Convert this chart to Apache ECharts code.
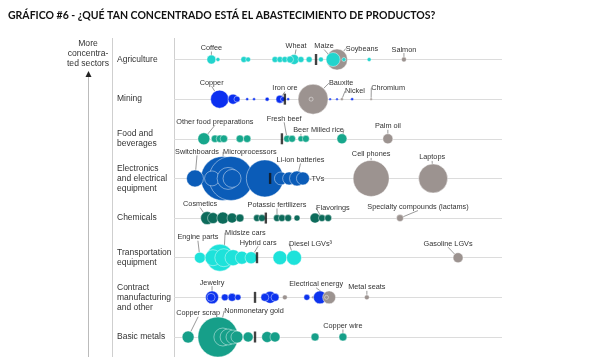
<!DOCTYPE html>
<html><head><meta charset="utf-8">
<script src="https://cdn.jsdelivr.net/npm/echarts@6/dist/echarts.min.js"></script>
<style>html,body{margin:0;padding:0;background:#fff}#c{width:600px;height:357px}</style>
</head><body><div id="c"></div>
<script>
// Sector rows (top = more concentrated)
const sectors = ['Agriculture', 'Mining', 'Food and\nbeverages', 'Electronics\nand electrical\nequipment', 'Chemicals', 'Transportation\nequipment', 'Contract\nmanufacturing\nand other', 'Basic metals'];

// Each product: [concentration index (0-100), trade value, label, highlighted(grey)]
const agriculture = [
  [49.7, 110, 'Soybeans', 1], [48.5, 49, 'Maize'], [11.4, 20, 'Coffee'], [13.4, 4],
  [21.3, 9], [22.6, 6], [30.8, 9], [32.3, 9], [33.8, 9], [36.6, 25, 'Wheat'], [35.4, 12],
  [38.7, 9], [41.2, 9], [44.8, 6], [51.8, 4], [59.5, 4], [70.1, 6, 'Salmon', 1]
];
const mining = [
  [42.4, 225, 'Bauxite', 1], [41.8, 4, '', 1], [13.9, 81, 'Copper'], [18.0, 25], [19.2, 9],
  [22.3, 2], [24.4, 2], [28.4, 4], [32.3, 16, 'Iron ore'], [33.2, 6], [34.8, 2],
  [47.6, 1.5], [49.7, 1.5], [51.2, 2, 'Nickel', 1], [54.3, 2], [60.1, 1.5, 'Chromium', 1]
];
const food = [
  [9.1, 36, 'Other food preparations'], [12.5, 14], [14.0, 14], [15.2, 14], [20.1, 14], [22.3, 14],
  [34.5, 12, 'Fresh beef'], [36.0, 12], [38.7, 9, 'Beer'], [40.2, 12], [51.2, 25, 'Milled rice'],
  [65.2, 25, 'Palm oil', 1]
];
const electronics = [
  [14.9, 484, 'Microprocessors'], [17.4, 484], [27.7, 342], [6.4, 72, 'Switchboards'], [11.6, 56],
  [16.5, 121], [17.7, 81], [32.6, 42], [35.1, 42], [37.5, 56, 'Li-ion batteries'], [39.3, 42, 'TVs'],
  [60.1, 324, 'Cell phones', 1], [79.0, 210, 'Laptops', 1]
];
const chemicals = [
  [10.1, 42, 'Cosmetics'], [11.9, 30], [14.9, 36], [17.7, 25], [20.1, 16], [25.3, 12], [26.8, 12],
  [31.4, 12, 'Potassic fertilizers'], [32.9, 12], [34.8, 12], [37.5, 9], [43.0, 25],
  [45.1, 12, 'Flavorings'], [47.0, 12], [68.9, 12, 'Specialty compounds (lactams)', 1]
];
const transport = [
  [14.0, 182], [7.9, 30, 'Engine parts'], [11.9, 64], [15.2, 81, 'Midsize cars'], [18.0, 64],
  [20.7, 42], [23.5, 36, 'Hybrid cars'], [32.3, 49], [36.6, 56, 'Diesel LGVs³'],
  [86.6, 25, 'Gasoline LGVs', 1]
];
const contract = [
  [11.6, 42, 'Jewelry'], [11.3, 16], [15.5, 12], [17.7, 16], [19.5, 9], [29.3, 36], [27.7, 16],
  [30.8, 16], [33.8, 6, '', 1], [40.5, 9], [42.4, 2, '', 1], [44.5, 42],
  [47.3, 42, 'Electrical energy', 1], [46.5, 4, '', 1], [58.8, 6, 'Metal seats', 1]
];
const basicMetals = [
  [13.4, 400, 'Nonmonetary gold'], [4.3, 36, 'Copper scrap'], [14.9, 81], [16.5, 64], [18.0, 49],
  [19.2, 36], [22.6, 25], [28.4, 30], [30.8, 25], [43.0, 16], [51.5, 16, 'Copper wire']
];
// Sector median concentration (black tick)
const medians = [43.3, 33.8, 32.9, 29.3, 28.0, 25.3, 24.7, 24.7];

const rows = [agriculture, mining, food, electronics, chemicals, transport, contract, basicMetals];
const rowColors = ['#22d4cd', '#0b2ff0', '#17a78c', '#0b5cb8', '#0d6b5b', '#1ee2da', '#0d33ee', '#169f89'];
const grey = '#9c9390';

// label offsets (dx, dy) from bubble centre
const labelOffsets = {
  'Coffee': [0, -11.5], 'Wheat': [2, -13.5], 'Maize': [-9, -13.5], 'Soybeans': [25, -11], 'Salmon': [0, -10],
  'Copper': [-8, -16.5], 'Iron ore': [5, -11], 'Bauxite': [28, -16], 'Nickel': [13, -8], 'Chromium': [17, -11],
  'Other food preparations': [11, -17], 'Fresh beef': [-3, -20], 'Beer': [0, -8.5], 'Milled rice': [-14.5, -9], 'Palm oil': [0, -12.5],
  'Switchboards': [2, -26.5], 'Microprocessors': [27, -26.5], 'Li-ion batteries': [3.5, -18.5], 'TVs': [15, 1], 'Cell phones': [0, -24], 'Laptops': [-1, -21],
  'Cosmetics': [-7, -14], 'Potassic fertilizers': [0, -13], 'Flavorings': [11, -10], 'Specialty compounds (lactams)': [18, -11],
  'Engine parts': [-2, -20.5], 'Midsize cars': [21.5, -25], 'Hybrid cars': [7, -15], 'Diesel LGVs³': [16.5, -14], 'Gasoline LGVs': [-10, -14],
  'Jewelry': [0, -14.7], 'Electrical energy': [-13, -13], 'Metal seats': [0, -10],
  'Copper scrap': [10, -23.7], 'Nonmonetary gold': [36, -26], 'Copper wire': [0, -11]
};

const series = rows.map((rowData, r) => ({
  type: 'scatter',
  z: 2,
  symbolSize: v => 2 * Math.sqrt(v[2]),
  itemStyle: { color: rowColors[r], borderColor: 'rgba(255,255,255,0.55)', borderWidth: 0.8, opacity: 1 },
  label: { show: false, position: 'inside', color: '#333', fontSize: 7.3, fontFamily: 'Liberation Sans', textBorderWidth: 0,
           formatter: p => p.name },
  labelLine: { show: true, lineStyle: { color: '#555', width: 0.6 } },
  labelLayout: p => { const o = labelOffsets[p.text] || [0, 0]; return { dx: o[0], dy: o[1] }; },
  emphasis: { disabled: true },
  data: rowData.map(d => ({
    name: d[2] || '',
    value: [d[0], r, d[1]],
    itemStyle: d[3] ? { color: grey } : undefined,
    label: { show: !!d[2] }
  }))
}));

series.push({
  type: 'scatter', z: 5, symbol: 'rect', symbolSize: [2.4, 11],
  itemStyle: { color: '#111' }, emphasis: { disabled: true },
  data: medians.map((m, r) => [m, r])
});

const chart = echarts.init(document.getElementById('c'), null, { renderer: 'canvas' });
chart.setOption({
  animation: false,
  backgroundColor: '#fff',
  title: {
    text: 'GRÁFICO #6 - ¿QUÉ TAN CONCENTRADO ESTÁ EL ABASTECIMIENTO DE PRODUCTOS?',
    left: 3, top: 5,
    textStyle: { fontSize: 10.5, fontWeight: 'bold', fontFamily: 'Lato', color: '#111' }
  },
  grid: { left: 174, right: 98, top: 59.5, bottom: 20 },
  xAxis: { type: 'value', min: 0, max: 100, show: false },
  yAxis: {
    type: 'value', min: 0, max: 7, interval: 1, inverse: true,
    axisLine: { show: false }, axisTick: { show: false },
    splitLine: { show: true, lineStyle: { color: '#dcdcdc', width: 1 } },
    axisLabel: { formatter: v => sectors[v] || '', align: 'left', margin: 57, fontSize: 8.5, lineHeight: 10,
                 color: '#333', fontFamily: 'Liberation Sans' }
  },
  graphic: [
    { type: 'line', shape: { x1: 112.5, y1: 38, x2: 112.5, y2: 357 }, style: { stroke: '#cfcfcf', lineWidth: 1 } },
    { type: 'line', shape: { x1: 174.5, y1: 38, x2: 174.5, y2: 357 }, style: { stroke: '#cfcfcf', lineWidth: 1 } },
    { type: 'line', shape: { x1: 88.5, y1: 75, x2: 88.5, y2: 357 }, style: { stroke: '#bbb', lineWidth: 1 } },
    { type: 'polygon', shape: { points: [[85.5, 77], [91.5, 77], [88.5, 71]] }, style: { fill: '#222' } },
    { type: 'text', x: 88, y: 38.5, style: { text: 'More\nconcentra-\nted sectors', textAlign: 'center', fontSize: 8.6,
      lineHeight: 10, fill: '#333', fontFamily: 'Liberation Sans' } }
  ],
  series
});
</script></body></html>
